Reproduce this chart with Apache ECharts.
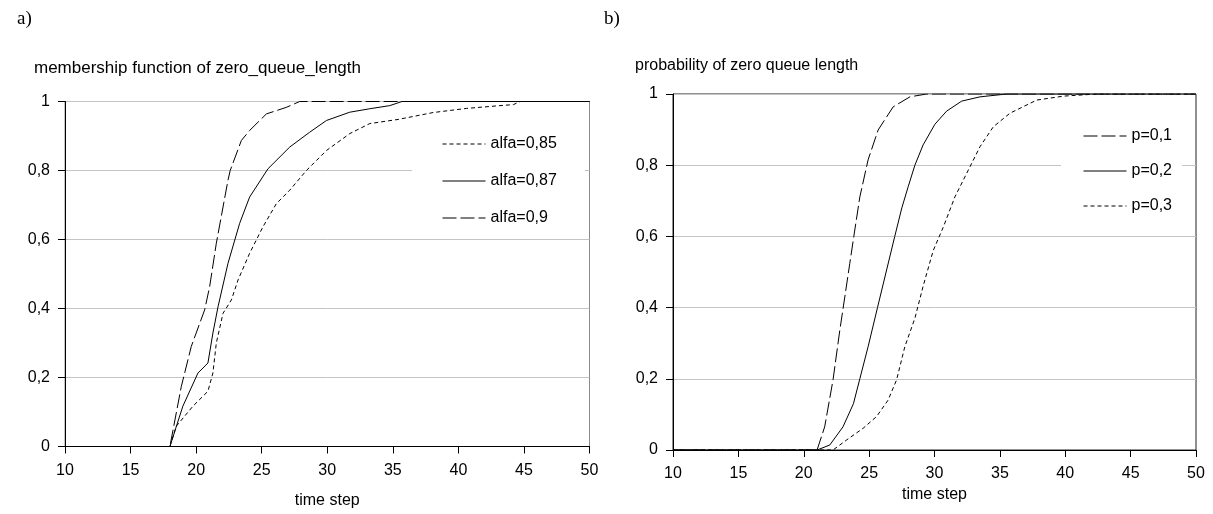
<!DOCTYPE html>
<html>
<head>
<meta charset="utf-8">
<script src="https://cdn.jsdelivr.net/npm/echarts@6/dist/echarts.min.js"></script>
<style>
html,body{margin:0;padding:0;background:#fff;}
#chart{width:1213px;height:514px;}
</style>
</head>
<body>
<div id="chart"></div>
<script>
// ---- data ----
const panelLabels = ['a)', 'b)'];
const chartTitles = ['membership function of zero_queue_length', 'probability of zero queue length'];
const xAxisName = 'time step';
const xTickValues = [10, 15, 20, 25, 30, 35, 40, 45, 50];
const xTickLabels = ['10', '15', '20', '25', '30', '35', '40', '45', '50'];
const yTickValues = [0, 0.2, 0.4, 0.6, 0.8, 1];
const yTickLabels = ['0', '0,2', '0,4', '0,6', '0,8', '1'];

// left panel (a)
const leftNames = ['alfa=0,85', 'alfa=0,87', 'alfa=0,9'];
const alfa085X = [10, 18, 18.49, 19.76, 20.9, 21.28, 21.54, 22.05, 22.69, 23.2, 24.08, 25.1, 26.12, 27.14, 28.41, 29.94, 31.72, 33.24, 35.4, 38.08, 40.63, 43.17, 44.2, 44.7, 50];
const alfa085Y = [0, 0, 0.059, 0.117, 0.16, 0.213, 0.3, 0.386, 0.425, 0.483, 0.56, 0.637, 0.704, 0.743, 0.8, 0.858, 0.907, 0.936, 0.948, 0.968, 0.98, 0.988, 0.991, 1, 1];
const alfa087X = [10, 18, 18.99, 20.14, 20.9, 21.28, 21.67, 22.43, 23.32, 24.08, 25.48, 27.14, 28.66, 29.94, 31.72, 33.24, 34.77, 35.7, 50];
const alfa087Y = [0, 0, 0.117, 0.213, 0.242, 0.329, 0.405, 0.531, 0.647, 0.723, 0.805, 0.868, 0.911, 0.945, 0.969, 0.979, 0.988, 1, 1];
const alfa09X = [10, 18, 18.87, 19.63, 20.65, 21.03, 21.54, 22.43, 22.6, 23.45, 24.08, 25.36, 26.88, 27.9, 50];
const alfa09Y = [0, 0, 0.174, 0.29, 0.396, 0.463, 0.589, 0.772, 0.8, 0.887, 0.916, 0.964, 0.983, 1, 1];

// right panel (b)
const rightNames = ['p=0,1', 'p=0,2', 'p=0,3'];
const p01X = [10, 21.02, 21.6, 22.24, 22.76, 23.14, 23.52, 23.83, 24.29, 24.92, 25.69, 26.84, 28.12, 29.4, 50];
const p01Y = [0, 0, 0.065, 0.197, 0.337, 0.43, 0.524, 0.6, 0.711, 0.815, 0.899, 0.964, 0.992, 1, 1];
const p02X = [10, 21.02, 21.99, 23.0, 23.8, 24.29, 24.92, 25.64, 26.3, 26.96, 27.5, 27.99, 28.5, 29.13, 30.03, 30.93, 32.08, 33.48, 35.52, 50];
const p02Y = [0, 0, 0.014, 0.065, 0.13, 0.2, 0.29, 0.4, 0.5, 0.6, 0.68, 0.74, 0.8, 0.857, 0.915, 0.952, 0.98, 0.992, 1, 1];
const p03X = [10, 22.24, 23.27, 24.54, 25.57, 26.45, 27.1, 27.73, 28.5, 29.13, 29.9, 30.66, 31.56, 32.46, 33.48, 34.5, 35.77, 37.82, 39.86, 42.4, 50];
const p03Y = [0, 0, 0.028, 0.061, 0.094, 0.14, 0.197, 0.29, 0.37, 0.46, 0.56, 0.625, 0.711, 0.777, 0.852, 0.908, 0.946, 0.983, 0.994, 1, 1];

// ---- build option ----
const FONT = "'Liberation Sans', Arial, sans-serif";
const FS = 16;
const pairs = (xs, ys) => xs.map((x, i) => [x, ys[i]]);
const xLab = v => { const i = xTickValues.indexOf(v); return i >= 0 ? xTickLabels[i] : ''; };
const yLab = v => { const i = yTickValues.findIndex(t => Math.abs(t - v) < 1e-6); return i >= 0 ? yTickLabels[i] : ''; };

const styles = {
  dotted: { color: '#000', width: 1, type: [4, 3] },
  solid: { color: '#000', width: 1, type: 'solid' },
  dashed: { color: '#000', width: 1, type: [14, 4] }
};

function xAxisCfg(gridIndex, nameGap) {
  return {
    type: 'value', gridIndex, min: 10, max: 50, interval: 5,
    name: xAxisName, nameLocation: 'middle', nameGap,
    nameTextStyle: { color: '#000', fontSize: FS, fontFamily: FONT },
    axisLine: { show: true, onZero: false, lineStyle: { color: '#000', width: 1 } },
    axisTick: { show: true, inside: false, length: 7, lineStyle: { color: '#000' } },
    axisLabel: { color: '#000', fontSize: FS, fontFamily: FONT, margin: 16, formatter: xLab },
    splitLine: { show: false }
  };
}
function yAxisCfg(gridIndex) {
  return {
    type: 'value', gridIndex, min: 0, max: 1, interval: 0.2,
    axisLine: { show: true, lineStyle: { color: '#000', width: 1 } },
    axisTick: { show: true, inside: false, length: 7, lineStyle: { color: '#000' } },
    axisLabel: { color: '#000', fontSize: FS, fontFamily: FONT, margin: 15, formatter: yLab },
    splitLine: { show: true, lineStyle: { color: '#c4c4c4', width: 1 } }
  };
}
function series(name, xs, ys, st, idx) {
  return {
    name, type: 'line', xAxisIndex: idx, yAxisIndex: idx,
    data: pairs(xs, ys), showSymbol: false, symbol: 'none', smooth: false,
    lineStyle: st, animation: false, silent: true
  };
}

const option = {
  animation: false,
  backgroundColor: '#fff',
  title: [
    { text: panelLabels[0], left: 12, top: 5, textStyle: { fontFamily: "'Liberation Serif', 'Times New Roman', serif", fontSize: 19, fontWeight: 'normal', color: '#000' } },
    { text: panelLabels[1], left: 599, top: 5, textStyle: { fontFamily: "'Liberation Serif', 'Times New Roman', serif", fontSize: 19, fontWeight: 'normal', color: '#000' } },
    { text: chartTitles[0], left: 34, top: 60, padding: 0, textStyle: { fontFamily: FONT, fontSize: 17, fontWeight: 'normal', color: '#000' } },
    { text: chartTitles[1], left: 635, top: 58, padding: 0, textStyle: { fontFamily: FONT, fontSize: FS, fontWeight: 'normal', color: '#000' } }
  ],
  grid: [
    { left: 65, top: 101.5, width: 524.5, height: 345, show: true, borderColor: '#8a8a8a', borderWidth: 1, backgroundColor: 'transparent' },
    { left: 673, top: 94, width: 523, height: 356, show: true, borderColor: '#222', borderWidth: 1, backgroundColor: 'transparent' }
  ],
  xAxis: [xAxisCfg(0, 46), xAxisCfg(1, 37)],
  yAxis: [yAxisCfg(0), yAxisCfg(1)],
  legend: [
    {
      data: leftNames, orient: 'vertical', left: 412, top: 126, itemWidth: 43, itemHeight: 14, itemGap: 21,
      padding: [10, 28, 10, 30], backgroundColor: '#fff', itemStyle: { opacity: 0 },
      lineStyle: { width: 1 },
      textStyle: { fontFamily: FONT, fontSize: FS, color: '#000' },
      selectedMode: false
    },
    {
      data: rightNames, orient: 'vertical', left: 1061, top: 118, itemWidth: 43, itemHeight: 14, itemGap: 19,
      padding: [10, 10, 10, 22], backgroundColor: '#fff', itemStyle: { opacity: 0 },
      lineStyle: { width: 1 },
      textStyle: { fontFamily: FONT, fontSize: FS, color: '#000' },
      selectedMode: false
    }
  ],
  series: [
    series(leftNames[0], alfa085X, alfa085Y, styles.dotted, 0),
    series(leftNames[1], alfa087X, alfa087Y, styles.solid, 0),
    series(leftNames[2], alfa09X, alfa09Y, styles.dashed, 0),
    series(rightNames[0], p01X, p01Y, styles.dashed, 1),
    series(rightNames[1], p02X, p02Y, styles.solid, 1),
    series(rightNames[2], p03X, p03Y, styles.dotted, 1)
  ]
};

const chart = echarts.init(document.getElementById('chart'), null, { renderer: 'canvas' });
chart.setOption(option);
</script>
</body>
</html>
